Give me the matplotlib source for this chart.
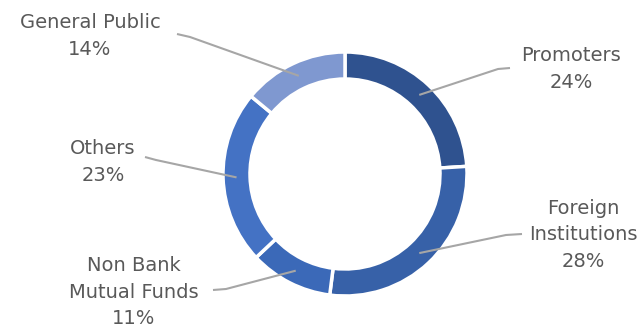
import numpy as np
import matplotlib
matplotlib.use("Agg")
import matplotlib.pyplot as plt

plt.rcParams['font.family'] = ['DejaVu Sans']

# data
labels = ['Promoters', 'Foreign\nInstitutions', 'Non Bank\nMutual Funds', 'Others', 'General Public']
shares = [24, 28, 11, 23, 14]
colors = ['#2F528F', '#3761A8', '#3B69B8', '#4472C4', '#7F98D0']

# label layout in pixels (x, y from top), and leader elbow points
text_pos = [(571, 69), (583, 235), (134, 292), (103, 162), (90, 36)]
elbows = [[(510, 68), (498, 69)],
          [(522, 234), (506, 235)],
          [(213, 290), (226, 289)],
          [(145, 157), (156, 160)],
          [(177, 34), (190, 37)]]

W, H = 637, 328
cx, cy = 345, 174
r_out, r_in = 122, 95

fig = plt.figure(figsize=(W / 100, H / 100), dpi=100)
ax = fig.add_axes([0, 0, 1, 1])

wedges, _ = ax.pie(shares, colors=colors, startangle=90, counterclock=False,
                   center=(cx, H - cy), radius=r_out,
                   wedgeprops=dict(width=r_out - r_in, edgecolor='white', linewidth=2.5))

ax.set_xlim(0, W)
ax.set_ylim(0, H)
ax.set_aspect('equal')
ax.axis('off')

r_mid = (r_out + r_in) / 2
for w, lab, val, (tx, ty), elb in zip(wedges, labels, shares, text_pos, elbows):
    ang = np.deg2rad((w.theta1 + w.theta2) / 2)
    px = cx + r_mid * np.cos(ang)
    py = (H - cy) + r_mid * np.sin(ang)
    xs = [p[0] for p in elb] + [px]
    ys = [H - p[1] for p in elb] + [py]
    ax.plot(xs, ys, color='#A6A6A6', lw=1.5, solid_capstyle='butt')
    ax.text(tx, H - ty, f'{lab}\n{val}%', ha='center', va='center',
            fontsize=14, color='#595959', linespacing=1.5)

fig.savefig('out.png', dpi=100)
